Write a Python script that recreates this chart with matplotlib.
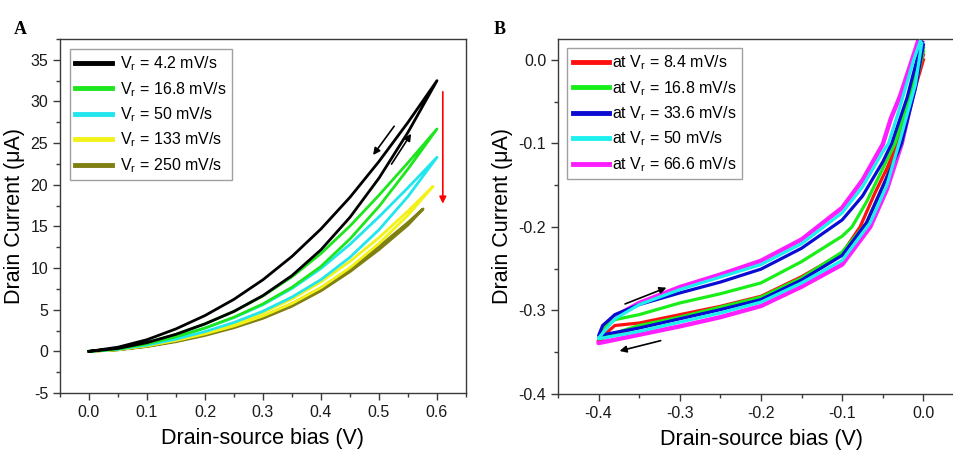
import matplotlib
matplotlib.use('Agg')
import matplotlib.pyplot as plt
from matplotlib.ticker import MultipleLocator, FormatStrFormatter

plt.rcParams['font.family'] = ['Liberation Sans', 'DejaVu Sans']
plt.rcParams['mathtext.default'] = 'regular'
plt.rcParams['axes.unicode_minus'] = False

# ---------------- Panel A data ----------------
bias_a = [0.0, 0.05, 0.10, 0.15, 0.20, 0.25, 0.30, 0.35, 0.40, 0.45, 0.50, 0.55]
rates_a = ['4.2', '16.8', '50', '133', '250']
colors_a = ['#000000', '#1ee61e', '#22e6ee', '#f2f218', '#7f7f12']
tip_bias_a = [0.60, 0.60, 0.60, 0.593, 0.576]
tip_current_a = [32.5, 26.7, 23.3, 19.8, 17.1]
fwd_a = [
    [0, 0.35, 1.05, 2.05, 3.3, 4.8, 6.7, 9.1, 12.2, 16.1, 20.8, 26.3],
    [0, 0.3, 0.9, 1.75, 2.8, 4.1, 5.7, 7.7, 10.2, 13.5, 17.4, 21.9],
    [0, 0.25, 0.75, 1.47, 2.37, 3.47, 4.82, 6.52, 8.62, 11.3, 14.6, 18.6],
    [0, 0.2, 0.65, 1.3, 2.1, 3.05, 4.25, 5.75, 7.65, 10.05, 12.95, 16.35],
    [0, 0.18, 0.58, 1.16, 1.91, 2.84, 3.97, 5.42, 7.27, 9.57, 12.22, 15.17],
]
rev_a = [
    [0, 0.5, 1.4, 2.7, 4.3, 6.25, 8.6, 11.4, 14.7, 18.5, 22.8, 27.5],
    [0, 0.35, 1.05, 2.05, 3.3, 4.8, 6.65, 8.95, 11.75, 15.05, 18.75, 22.65],
    [0, 0.3, 0.9, 1.75, 2.8, 4.05, 5.6, 7.55, 9.95, 12.85, 16.15, 19.65],
    [0, 0.25, 0.75, 1.45, 2.3, 3.35, 4.65, 6.3, 8.35, 10.8, 13.65, 16.85],
    [0, 0.2, 0.62, 1.24, 2.04, 3.02, 4.22, 5.72, 7.62, 9.92, 12.57, 15.47],
]

# ---------------- Panel B data ----------------
rates_b = ['8.4', '16.8', '33.6', '50', '66.6']
colors_b = ['#ff1010', '#19ee19', '#0a0ad2', '#1ef0f0', '#ff1eff']
v_fwd_b = [
    [0.0, -0.012, -0.03, -0.045, -0.07, -0.1, -0.15, -0.2, -0.25, -0.3, -0.35, -0.4],
    [0.0, -0.01, -0.027, -0.04, -0.07, -0.1, -0.15, -0.2, -0.25, -0.3, -0.35, -0.4],
    [0.0, -0.01, -0.027, -0.04, -0.07, -0.1, -0.15, -0.2, -0.25, -0.3, -0.35, -0.4],
    [-0.002, -0.01, -0.03, -0.045, -0.0655, -0.1, -0.15, -0.2, -0.25, -0.3, -0.35, -0.4],
    [-0.003, -0.008, -0.0266, -0.045, -0.0655, -0.1, -0.15, -0.2, -0.25, -0.3, -0.35, -0.4],
]
i_fwd_b = [
    [0.0, -0.04, -0.1, -0.14, -0.195, -0.233, -0.262, -0.286, -0.298, -0.309, -0.320, -0.335],
    [0.01, -0.03, -0.1, -0.13, -0.195, -0.230, -0.261, -0.284, -0.296, -0.308, -0.318, -0.333],
    [0.018, -0.035, -0.1, -0.13, -0.195, -0.234, -0.2635, -0.287, -0.299, -0.310, -0.321, -0.330],
    [0.02, -0.03, -0.1, -0.15, -0.195, -0.240, -0.267, -0.290, -0.303, -0.314, -0.325, -0.334],
    [0.022, -0.02, -0.1, -0.155, -0.2, -0.245, -0.2715, -0.2946, -0.308, -0.319, -0.329, -0.339],
]
v_ret_b = [
    [-0.4, -0.38, -0.35, -0.3, -0.25, -0.2, -0.15, -0.1, -0.078, -0.06, -0.045, -0.032, -0.015, -0.002, 0.0],
    [-0.4, -0.39, -0.38, -0.35, -0.3, -0.25, -0.2, -0.15, -0.1, -0.088, -0.07, -0.05, -0.035, -0.02, -0.006, 0.0],
    [-0.4, -0.395, -0.38, -0.35, -0.3, -0.25, -0.2, -0.15, -0.1, -0.075, -0.05, -0.039, -0.02, -0.008, -0.001],
    [-0.4, -0.38, -0.35, -0.3, -0.25, -0.2, -0.15, -0.1, -0.075, -0.05, -0.043, -0.03, -0.012, -0.004],
    [-0.4, -0.39, -0.38, -0.35, -0.3, -0.25, -0.2, -0.15, -0.1, -0.075, -0.05, -0.04, -0.029, -0.014, -0.006],
]
i_ret_b = [
    [-0.335, -0.318, -0.315, -0.305, -0.295, -0.283, -0.2595, -0.2315, -0.2, -0.16, -0.13, -0.1, -0.045, 0.0, 0.006],
    [-0.333, -0.318, -0.311, -0.305, -0.291, -0.280, -0.267, -0.2415, -0.211, -0.2, -0.17, -0.13, -0.1, -0.055, 0.0, 0.014],
    [-0.330, -0.318, -0.305, -0.293, -0.279, -0.266, -0.2505, -0.2255, -0.1916, -0.163, -0.122, -0.1, -0.045, 0.0, 0.021],
    [-0.333, -0.31, -0.293, -0.275, -0.26, -0.245, -0.220, -0.183, -0.152, -0.11, -0.1, -0.06, 0.0, 0.022],
    [-0.337, -0.318, -0.307, -0.291, -0.272, -0.257, -0.2405, -0.215, -0.177, -0.144, -0.101, -0.07, -0.044, 0.0, 0.024],
]

fig = plt.figure(figsize=(9.54, 4.54), dpi=100)
axA = fig.add_axes([60 / 954, 61 / 454, 406 / 954, 354 / 454])
axB = fig.add_axes([558 / 954, 60 / 454, 406 / 954, 355 / 454])

spine_col = '#3a3a3a'


def style(ax):
    for s in ax.spines.values():
        s.set_color(spine_col)
        s.set_linewidth(1.0)
    ax.tick_params(which='both', direction='out', colors=spine_col, labelcolor='#1a1a1a',
                   top=False, right=False, labelsize=11.5)
    ax.tick_params(which='major', length=5, width=1.0)
    ax.tick_params(which='minor', length=3, width=1.0)


# Panel A
for k in range(5):
    xs = bias_a + [tip_bias_a[k]] + bias_a[::-1]
    ys = fwd_a[k] + [tip_current_a[k]] + rev_a[k][::-1]
    axA.plot(xs, ys, color=colors_a[k], lw=2.0, zorder=10 - k, solid_joinstyle='round',
             label='V$_r$ = %s mV/s' % rates_a[k])
axA.set_xlim(-0.05, 0.65)
axA.set_ylim(-5, 37.5)
axA.xaxis.set_major_locator(MultipleLocator(0.1))
axA.xaxis.set_minor_locator(MultipleLocator(0.05))
axA.yaxis.set_major_locator(MultipleLocator(5))
axA.yaxis.set_minor_locator(MultipleLocator(2.5))
axA.xaxis.set_major_formatter(FormatStrFormatter('%.1f'))
style(axA)
axA.set_xlabel('Drain-source bias (V)', fontsize=15.5, labelpad=6)
axA.set_ylabel('Drain Current (\u03bcA)', fontsize=15.5, labelpad=4)
axA.annotate('', xy=(0.61, 17.4), xytext=(0.61, 31.5),
             arrowprops=dict(arrowstyle='-|>', color='#ff0000', lw=1.2, mutation_scale=10))
axA.annotate('', xy=(0.487, 23.3), xytext=(0.529, 27.3),
             arrowprops=dict(arrowstyle='-|>', color='#000000', lw=1.2, mutation_scale=10))
axA.annotate('', xy=(0.558, 26.4), xytext=(0.519, 22.2),
             arrowprops=dict(arrowstyle='-|>', color='#000000', lw=1.2, mutation_scale=10))
legA = axA.legend(loc='upper left', bbox_to_anchor=(0.024, 0.972), borderaxespad=0,
                  fontsize=11.5, handlelength=2.3, handletextpad=0.5, labelspacing=0.42,
                  borderpad=0.35, fancybox=False, framealpha=1)
legA.get_frame().set_edgecolor('#a0a0a0')
legA.get_frame().set_linewidth(1.0)
for ln in legA.get_lines():
    ln.set_linewidth(3.5)

# Panel B
order_b = [3, 4, 5, 6, 2]
for k in range(5):
    xs = v_fwd_b[k] + v_ret_b[k]
    ys = i_fwd_b[k] + i_ret_b[k]
    lw = 3.2 if k == 4 else 2.3
    axB.plot(xs, ys, color=colors_b[k], lw=lw, zorder=order_b[k], solid_joinstyle='round',
             label='at V$_r$ = %s mV/s' % rates_b[k])
axB.set_xlim(-0.45, 0.05)
axB.set_ylim(-0.4, 0.025)
axB.xaxis.set_major_locator(MultipleLocator(0.1))
axB.xaxis.set_minor_locator(MultipleLocator(0.05))
axB.yaxis.set_major_locator(MultipleLocator(0.1))
axB.yaxis.set_minor_locator(MultipleLocator(0.05))
axB.xaxis.set_major_formatter(FormatStrFormatter('%.1f'))
axB.yaxis.set_major_formatter(FormatStrFormatter('%.1f'))
style(axB)
axB.set_xlabel('Drain-source bias (V)', fontsize=15.5, labelpad=6)
axB.set_ylabel('Drain Current (\u03bcA)', fontsize=15.5, labelpad=4)
axB.annotate('', xy=(-0.3133, -0.2715), xytext=(-0.3706, -0.2934),
             arrowprops=dict(arrowstyle='-|>', color='#000000', lw=1.2, mutation_scale=10))
axB.annotate('', xy=(-0.3775, -0.3493), xytext=(-0.3202, -0.3353),
             arrowprops=dict(arrowstyle='-|>', color='#000000', lw=1.2, mutation_scale=10))
legB = axB.legend(loc='upper left', bbox_to_anchor=(0.022, 0.975), borderaxespad=0,
                  fontsize=11.5, handlelength=2.3, handletextpad=0.15, labelspacing=0.42,
                  borderpad=0.35, fancybox=False, framealpha=1)
legB.get_frame().set_edgecolor('#a0a0a0')
legB.get_frame().set_linewidth(1.0)
for ln in legB.get_lines():
    ln.set_linewidth(3.5)

fig.text(14 / 954, 1 - 34 / 454, 'A', fontsize=13, fontweight='bold', family='Liberation Serif')
fig.text(494 / 954, 1 - 34 / 454, 'B', fontsize=13, fontweight='bold', family='Liberation Serif')

fig.savefig('out.png', dpi=100)
